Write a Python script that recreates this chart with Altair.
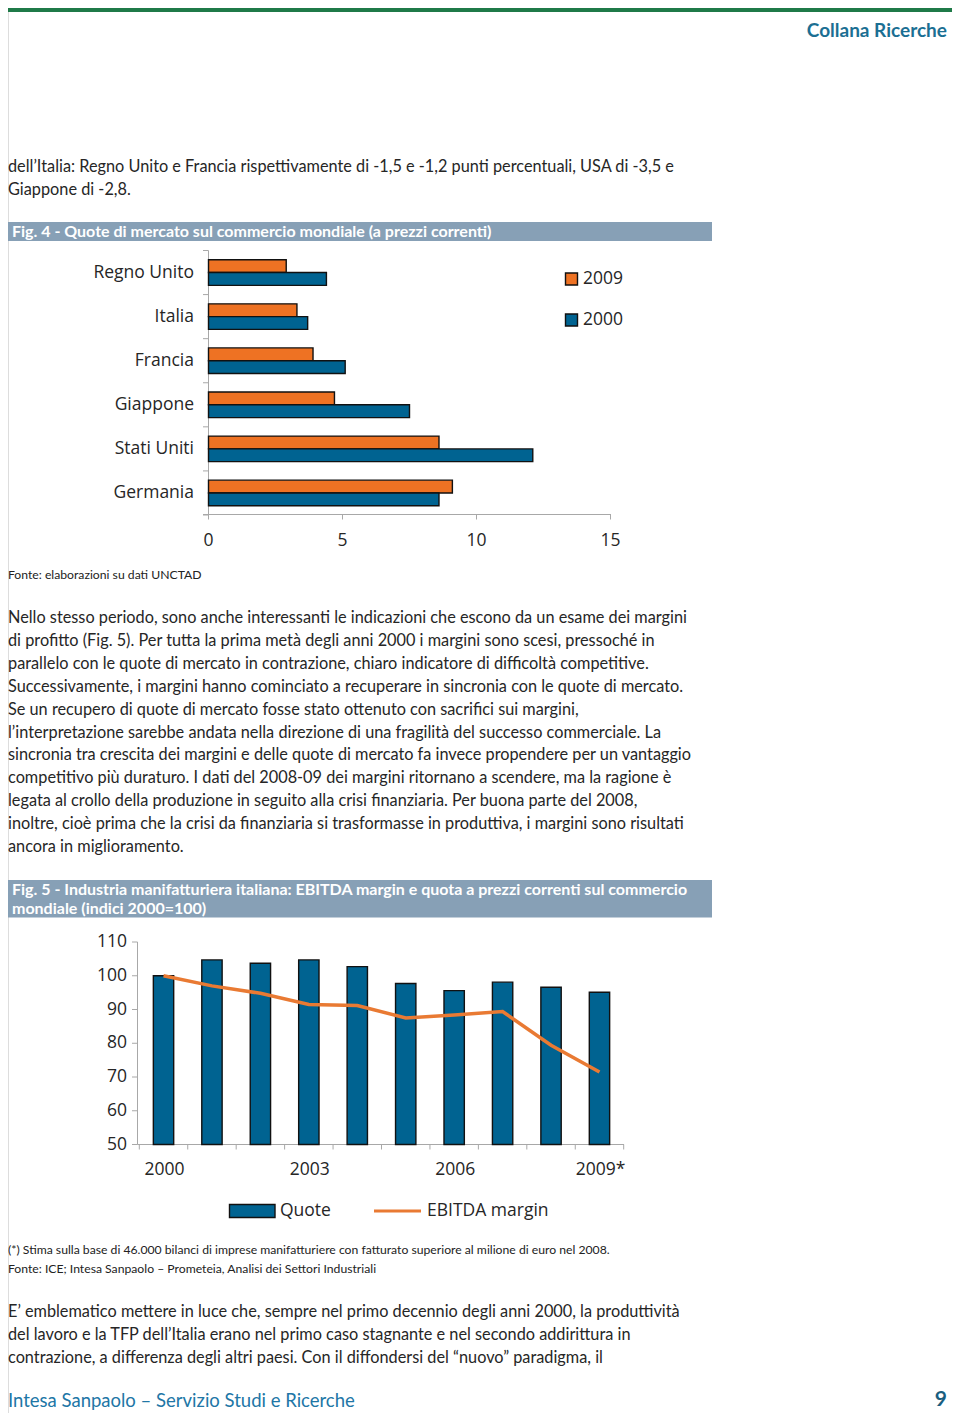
import altair as alt
import pandas as pd

# ---------------- data ----------------
countries = ["Regno Unito", "Italia", "Francia", "Giappone", "Stati Uniti", "Germania"]
share_2009 = [2.9, 3.3, 3.9, 4.7, 8.6, 9.1]
share_2000 = [4.4, 3.7, 5.1, 7.5, 12.1, 8.6]
series_names = ["2009", "2000"]
fig4_ticks = [0, 5, 10, 15]

years = [str(y) for y in range(2000, 2010)]
quote = [100, 104.7, 103.7, 104.7, 102.7, 97.7, 95.6, 98.1, 96.6, 95.1]
ebitda = [100, 97.0, 94.8, 91.5, 91.2, 87.5, 88.4, 89.4, 79.4, 71.5]
fig5_ticks = [50, 60, 70, 80, 90, 100, 110]
year_label_years = ["2000", "2003", "2006", "2009"]
year_labels = ["2000", "2003", "2006", "2009*"]

intro_lines = [
    "dell\u2019Italia: Regno Unito e Francia rispettivamente di -1,5 e -1,2 punti percentuali, USA di -3,5 e",
    "Giappone di -2,8.",
]
fig4_title = "Fig. 4 - Quote di mercato sul commercio mondiale (a prezzi correnti)"
fig4_source = "Fonte: elaborazioni su dati UNCTAD"
para2_lines = [
    "Nello stesso periodo, sono anche interessanti le indicazioni che escono da un esame dei margini",
    "di profitto (Fig. 5). Per tutta la prima met\u00e0 degli anni 2000 i margini sono scesi, pressoch\u00e9 in",
    "parallelo con le quote di mercato in contrazione, chiaro indicatore di difficolt\u00e0 competitive.",
    "Successivamente, i margini hanno cominciato a recuperare in sincronia con le quote di mercato.",
    "Se un recupero di quote di mercato fosse stato ottenuto con sacrifici sui margini,",
    "l\u2019interpretazione sarebbe andata nella direzione di una fragilit\u00e0 del successo commerciale. La",
    "sincronia tra crescita dei margini e delle quote di mercato fa invece propendere per un vantaggio",
    "competitivo pi\u00f9 duraturo. I dati del 2008-09 dei margini ritornano a scendere, ma la ragione \u00e8",
    "legata al crollo della produzione in seguito alla crisi finanziaria. Per buona parte del 2008,",
    "inoltre, cio\u00e8 prima che la crisi da finanziaria si trasformasse in produttiva, i margini sono risultati",
    "ancora in miglioramento.",
]
fig5_title_lines = [
    "Fig. 5 - Industria manifatturiera italiana: EBITDA margin e quota a prezzi correnti sul commercio",
    "mondiale (indici 2000=100)",
]
fig5_notes = [
    "(*) Stima sulla base di 46.000 bilanci di imprese manifatturiere con fatturato superiore al milione di euro nel 2008.",
    "Fonte: ICE; Intesa Sanpaolo \u2013 Prometeia, Analisi dei Settori Industriali",
]
para3_lines = [
    "E\u2019 emblematico mettere in luce che, sempre nel primo decennio degli anni 2000, la produttivit\u00e0",
    "del lavoro e la TFP dell\u2019Italia erano nel primo caso stagnante e nel secondo addirittura in",
    "contrazione, a differenza degli altri paesi. Con il diffondersi del \u201cnuovo\u201d paradigma, il",
]
header_text = "Collana Ricerche"
footer_text = "Intesa Sanpaolo \u2013 Servizio Studi e Ricerche"
page_number = "9"

# ---------------- styling / layout ----------------
W, H = 944, 1405
OX, OY = 8, 8


def px(x):
    return min(W, max(0, x - OX))


def py(y):
    return min(H, max(0, y - OY))


BODY_FONT = "Lato"
CHART_FONT = "Open Sans"
TEAL = "#1B6F93"
ORANGE = "#EE7223"
BLUE = "#006391"
BANNER = "#87A0B6"
TEXT = "#262626"
AXIS = "#A8A8A8"
BODY_SIZE = 16.3
one = pd.DataFrame({"d": [0]})

layers = []


def para(lines, x, y0, lh, size, color=TEXT, font=BODY_FONT, weight="normal", align="left"):
    df = pd.DataFrame({"t": lines, "i": list(range(len(lines)))})
    return alt.Chart(df).mark_text(
        align=align, baseline="middle", font=font, fontSize=size,
        fontWeight=weight, color=color
    ).encode(
        x=alt.value(px(x)),
        y=alt.Y("i:Q", scale=alt.Scale(domain=[0, 1], range=[py(y0), py(y0 + lh)],
                                       nice=False, zero=False), axis=None),
        text="t:N",
    )


def hrule(x1, x2, y, color, width):
    return alt.Chart(one).mark_rule(color=color, strokeWidth=width).encode(
        x=alt.value(px(x1)), x2=alt.value(px(x2)), y=alt.value(py(y)))


def vrule(x, y1, y2, color, width):
    return alt.Chart(one).mark_rule(color=color, strokeWidth=width).encode(
        x=alt.value(px(x)), y=alt.value(py(y1)), y2=alt.value(py(y2)))


def box(x1, x2, y1, y2, fill, stroke=None, sw=0):
    kw = dict(color=fill)
    if stroke:
        kw.update(stroke=stroke, strokeWidth=sw)
    return alt.Chart(one).mark_rect(**kw).encode(
        x=alt.value(px(x1)), x2=alt.value(px(x2)),
        y=alt.value(py(y1)), y2=alt.value(py(y2)))


# header
layers.append(box(8, 952, 8, 12, "#1f7a48"))
layers.append(para([header_text], 947, 31, 20, 19, color=TEAL, weight="bold", align="right"))

# intro text
layers.append(para(intro_lines, 8, 167, 23, BODY_SIZE))

# fig 4 banner
layers.append(box(0, 712, 222, 241, BANNER))
layers.append(para([fig4_title], 12, 232, 20, 16, color="white", weight="bold"))

# ---- fig 4 chart ----
df4 = pd.DataFrame({
    "country": countries * 2,
    "series": ["2009"] * len(countries) + ["2000"] * len(countries),
    "value": share_2009 + share_2000,
})
y4_scale = alt.Scale(domain=countries, range=[py(250.5), py(515)],
                     paddingInner=0.42, paddingOuter=0.21)
x4_scale = alt.Scale(domain=[0, 15], range=[px(208.5), px(610.5)], nice=False, zero=False)

layers.append(vrule(208.5, 250.5, 514.5, AXIS, 1))
layers.append(hrule(203, 611, 514.5, AXIS, 1))
layers.append(
    alt.Chart(pd.DataFrame({"k": list(range(len(countries) + 1))})).mark_rule(
        color=AXIS, strokeWidth=1).encode(
        x=alt.value(px(203)), x2=alt.value(px(208.5)),
        y=alt.Y("k:Q", scale=alt.Scale(domain=[0, len(countries)], range=[py(250.5), py(515)],
                                       nice=False, zero=False), axis=None))
)
layers.append(
    alt.Chart(pd.DataFrame({"v": fig4_ticks})).mark_rule(color=AXIS, strokeWidth=1).encode(
        x=alt.X("v:Q", scale=x4_scale, axis=None),
        y=alt.value(py(514.5)), y2=alt.value(py(519.5)))
)
layers.append(
    alt.Chart(pd.DataFrame({"v": fig4_ticks})).mark_text(
        font=CHART_FONT, fontSize=17.5, color=TEXT, baseline="middle").encode(
        x=alt.X("v:Q", scale=x4_scale, axis=None),
        y=alt.value(py(541)), text="v:Q")
)
layers.append(
    alt.Chart(pd.DataFrame({"country": countries})).mark_text(
        font=CHART_FONT, fontSize=17.5, color=TEXT, align="right", baseline="middle").encode(
        x=alt.value(px(194)),
        y=alt.Y("country:N", scale=y4_scale, sort=countries, axis=None),
        text="country:N")
)
layers.append(
    alt.Chart(df4).mark_bar(stroke="#111111", strokeWidth=1.4).encode(
        y=alt.Y("country:N", scale=y4_scale, sort=countries, axis=None),
        yOffset=alt.YOffset("series:N", sort=series_names,
                            scale=alt.Scale(domain=series_names, paddingInner=0, paddingOuter=0)),
        x=alt.X("value:Q", scale=x4_scale, axis=None),
        x2=alt.X2Datum(0),
        color=alt.Color("series:N", scale=alt.Scale(domain=series_names, range=[ORANGE, BLUE]),
                        legend=None),
    )
)
# fig 4 legend
layers.append(box(565.5, 577.5, 273, 285, ORANGE, "#111111", 1.4))
layers.append(box(565.5, 577.5, 314, 326, BLUE, "#111111", 1.4))
layers.append(para(["2009"], 583, 279, 41, 17.5, font=CHART_FONT))
layers.append(para(["2000"], 583, 320, 41, 17.5, font=CHART_FONT))

# source + paragraph 2
layers.append(para([fig4_source], 8, 575, 19, 12.2, color="#222222"))
layers.append(para(para2_lines, 8, 618, 22.9, BODY_SIZE))

# fig 5 banner
layers.append(box(0, 712, 880, 917.5, BANNER))
layers.append(para(fig5_title_lines, 12, 889.5, 19, 16, color="white", weight="bold"))

# ---- fig 5 chart ----
df5 = pd.DataFrame({"year": years, "quote": quote, "ebitda": ebitda})
x5_scale = alt.Scale(domain=years, range=[px(139.3), px(623.7)], paddingInner=0.58, paddingOuter=0.29)
y5_scale = alt.Scale(domain=[50, 110], range=[py(1144.5), py(942)], nice=False, zero=False)

layers.append(vrule(137.5, 942, 1144.5, AXIS, 1))
layers.append(hrule(137.5, 624, 1144.5, AXIS, 1))
layers.append(
    alt.Chart(pd.DataFrame({"v": fig5_ticks})).mark_rule(color=AXIS, strokeWidth=1).encode(
        x=alt.value(px(132)), x2=alt.value(px(137.5)),
        y=alt.Y("v:Q", scale=y5_scale, axis=None))
)
layers.append(
    alt.Chart(pd.DataFrame({"v": fig5_ticks})).mark_text(
        font=CHART_FONT, fontSize=17.5, color=TEXT, align="right", baseline="middle").encode(
        x=alt.value(px(127)),
        y=alt.Y("v:Q", scale=y5_scale, axis=None), text="v:Q")
)
layers.append(
    alt.Chart(pd.DataFrame({"k": list(range(len(years) + 1))})).mark_rule(
        color=AXIS, strokeWidth=1).encode(
        x=alt.X("k:Q", scale=alt.Scale(domain=[0, len(years)], range=[px(139.3), px(623.7)],
                                       nice=False, zero=False), axis=None),
        y=alt.value(py(1144.5)), y2=alt.value(py(1149.5)))
)
layers.append(
    alt.Chart(pd.DataFrame({"year": year_label_years, "label": year_labels})).mark_text(
        font=CHART_FONT, fontSize=17.5, color=TEXT, baseline="middle", dx=1).encode(
        x=alt.X("year:N", scale=x5_scale, sort=years, axis=None),
        y=alt.value(py(1170)), text="label:N")
)
layers.append(
    alt.Chart(df5).mark_bar(color=BLUE, stroke="#111111", strokeWidth=1.4).encode(
        x=alt.X("year:N", scale=x5_scale, sort=years, axis=None),
        y=alt.Y("quote:Q", scale=y5_scale, axis=None),
        y2=alt.Y2Datum(50),
    )
)
layers.append(
    alt.Chart(df5).mark_line(color="#E97A33", strokeWidth=3.5).encode(
        x=alt.X("year:N", scale=x5_scale, sort=years, axis=None),
        y=alt.Y("ebitda:Q", scale=y5_scale, axis=None),
    )
)
# fig 5 legend
layers.append(box(229.5, 275, 1204.5, 1217.5, BLUE, "#111111", 1.4))
layers.append(para(["Quote"], 280, 1211, 20, 17.5, font=CHART_FONT))
layers.append(hrule(374, 421, 1211, "#E97A33", 3))
layers.append(para(["EBITDA margin"], 427, 1211, 20, 17.5, font=CHART_FONT))

# notes + paragraph 3
layers.append(para(fig5_notes, 8, 1250, 19, 12.2, color="#222222"))
layers.append(para(para3_lines, 8, 1312, 23, BODY_SIZE))

# footer
layers.append(para([footer_text], 8, 1401, 20, 18.5, color="#2176A6"))
layers.append(para([page_number], 947, 1400, 20, 21, color="#1a5e80", weight="bold", align="right"))

chart = alt.layer(*layers).properties(
    width=W, height=H, padding=0,
    autosize=alt.AutoSizeParams(type="none"),
).resolve_scale(
    x="independent", y="independent", color="independent"
).configure_view(stroke="transparent", strokeWidth=0).configure(background="white")

chart.save("out.html", embed_options={"renderer": "svg", "actions": False})
